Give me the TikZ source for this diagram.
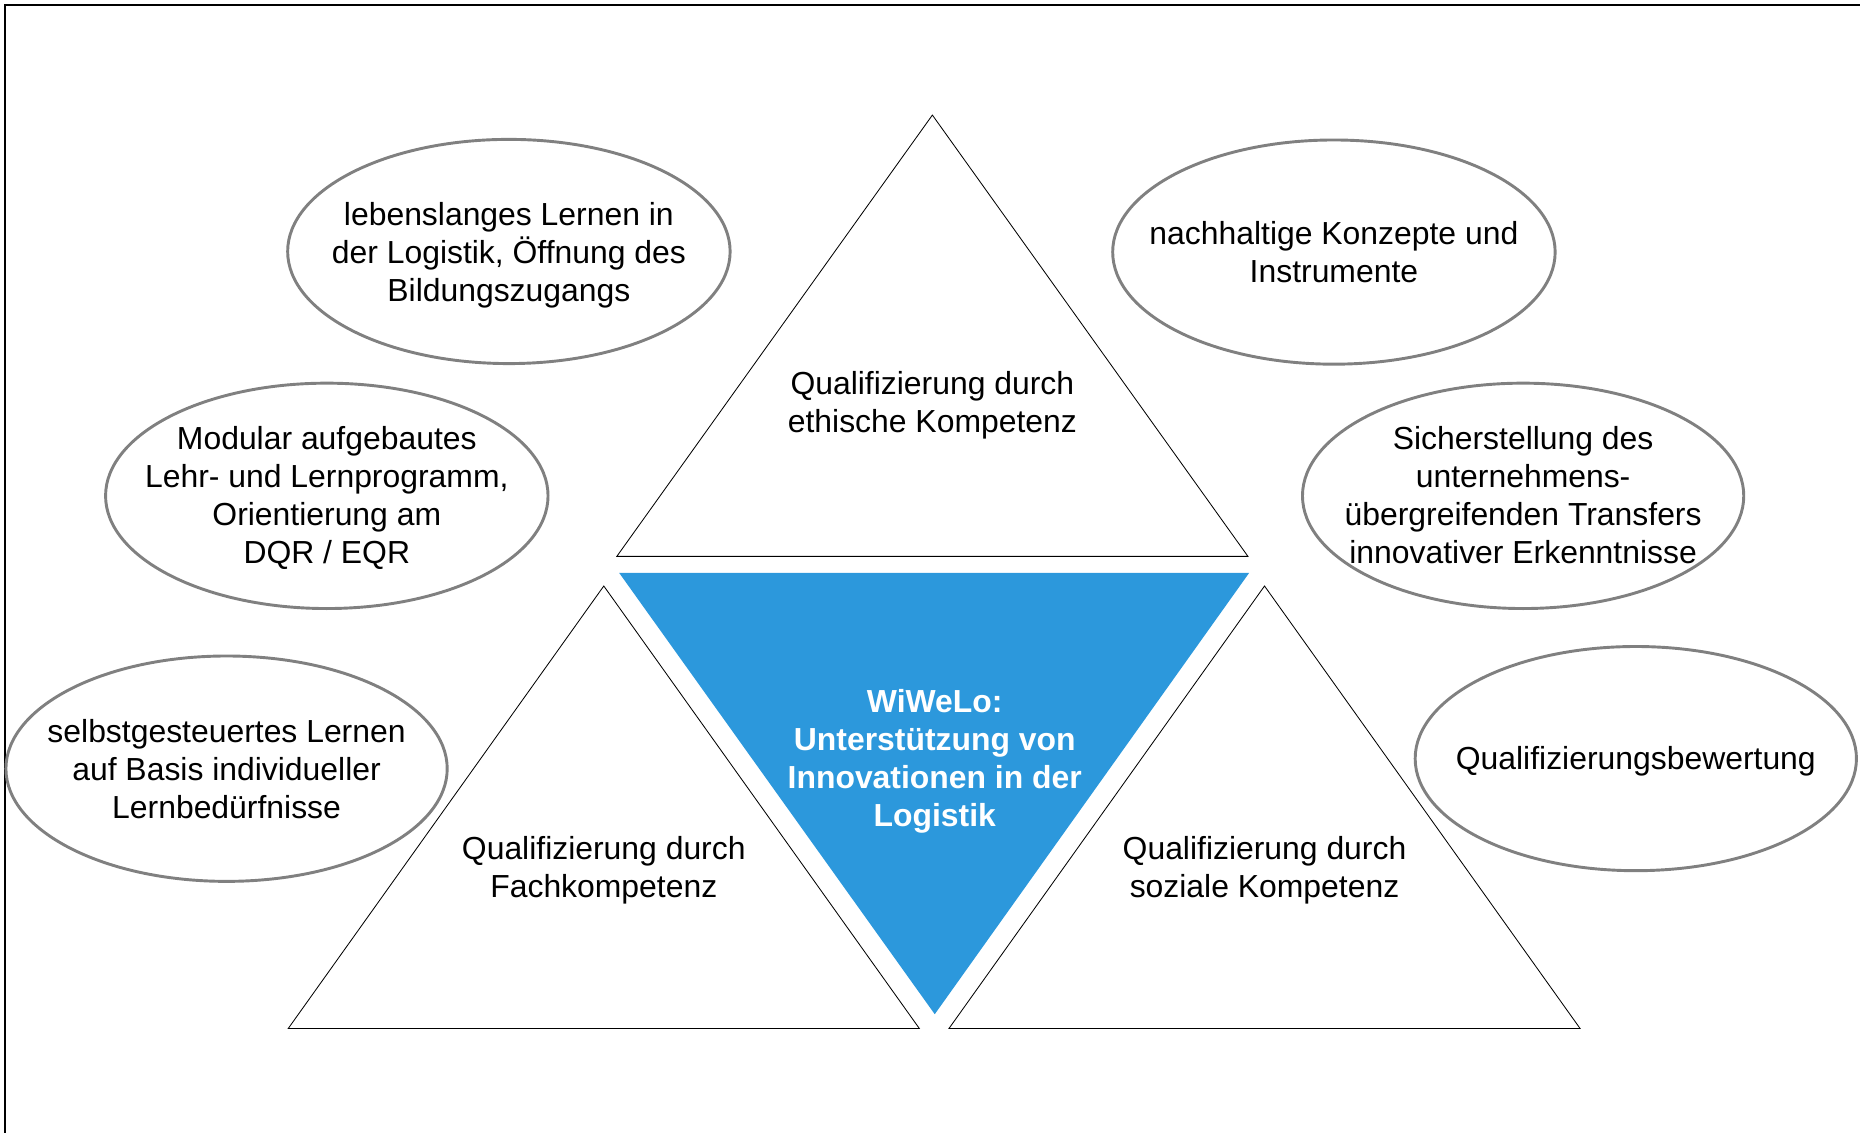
\documentclass[tikz,border=0pt]{standalone}
\usepackage{fontspec}
\setmainfont{Liberation Sans}
\definecolor{wiweloblue}{RGB}{44,152,220}

\begin{document}
\begin{tikzpicture}[x=0.2mm,y=-0.2mm,
	bubble/.style={draw=black!50,line width=1.4pt},
	lbl/.style={align=center,inner sep=0pt,font=\fontsize{15.3}{18.2}\selectfont}]
	\useasboundingbox (0,0) rectangle (1568,955);
	\draw[line width=0.8pt] (4,955) -- (4,4) -- (1568,4);
	% triangles
	\fill[wiweloblue] (522,483) -- (1053,483) -- (788,855) -- cycle;
	\draw (520,469) -- (786,97) -- (1052,469) -- cycle;
	\draw (243,867) -- (509,494) -- (775,867) -- cycle;
	\draw (800,867) -- (1066,494) -- (1332,867) -- cycle;
	\node[lbl] (ethik) at (786,342) {Qualifizierung durch\\ethische Kompetenz};
	\node[lbl] (fach) at (509,734) {Qualifizierung durch\\Fachkompetenz};
	\node[lbl] (sozial) at (1066,734) {Qualifizierung durch\\soziale Kompetenz};
	\node[lbl,text=white,font=\fontsize{15.3}{18.2}\selectfont\bfseries] (wiwelo) at (788,641.5) {WiWeLo:\\Unterstützung von\\Innovationen in der\\Logistik};
	% ellipses
	\draw[bubble] (429,212) ellipse [x radius=186.5,y radius=94.5];
	\draw[bubble] (1124.5,212.5) ellipse [x radius=186.5,y radius=94.5];
	\draw[bubble] (275.5,418) ellipse [x radius=186.5,y radius=95];
	\draw[bubble] (1284,418) ellipse [x radius=186,y radius=95];
	\draw[bubble] (191,648) ellipse [x radius=186,y radius=95];
	\draw[bubble] (1379,639.5) ellipse [x radius=186,y radius=94.5];
	\node[lbl] (lernen) at (429,215.5) {lebenslanges Lernen in\\der Logistik, Öffnung des\\Bildungszugangs};
	\node[lbl] (konzepte) at (1124.5,212.5) {nachhaltige Konzepte und\\Instrumente};
	\node[lbl] (modular) at (275.5,420) {Modular aufgebautes\\Lehr- und Lernprogramm,\\Orientierung am\\DQR / EQR};
	\node[lbl] (transfer) at (1284,417.5) {Sicherstellung des\\unternehmens-\\übergreifenden Transfers\\innovativer Erkenntnisse};
	\node[lbl] (selbst) at (191,648) {selbstgesteuertes Lernen\\auf Basis individueller\\Lernbedürfnisse};
	\node[lbl] (bewertung) at (1379,641.5) {Qualifizierungsbewertung};
\end{tikzpicture}
\end{document}
